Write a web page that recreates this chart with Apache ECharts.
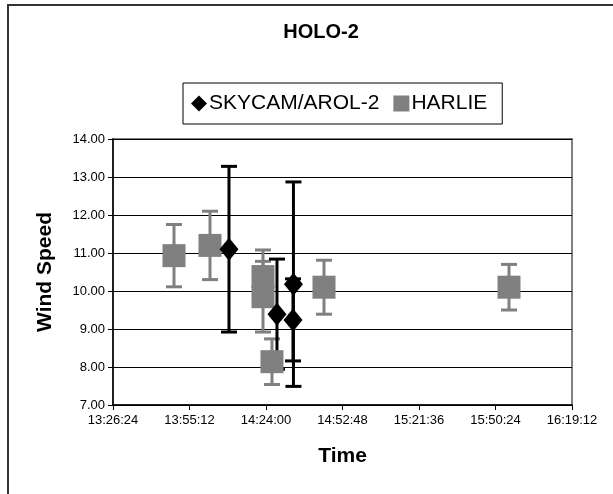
<!DOCTYPE html>
<html>
<head>
<meta charset="utf-8">
<script src="https://cdn.jsdelivr.net/npm/echarts@6/dist/echarts.min.js"></script>
<style>
html,body{margin:0;padding:0;background:#fff;}
#frame{position:absolute;left:7px;top:4px;width:700px;height:600px;border-left:2px solid #333;border-top:2px solid #333;}
#chart{position:absolute;left:0;top:0;width:613px;height:494px;}
</style>
</head>
<body>
<div id="frame"></div>
<div id="chart"></div>
<script>
// Times as seconds since midnight
function t(s){var p=s.split(':');return (+p[0])*3600+(+p[1])*60+(+p[2]);}
var skyTimes = ['14:10:04','14:28:08','14:34:20','14:34:10'];
var skyValues = [11.10, 9.39, 10.18, 9.24];
var skyErrors = [2.18, 1.45, 2.69, 1.08];
var harlieTimes = ['13:49:22','14:02:55','14:22:52','14:22:52','14:26:15','14:45:50','15:55:29'];
var harlieValues = [10.93, 11.20, 10.38, 9.85, 8.14, 10.10, 10.10];
var harlieErrors = [0.82, 0.90, 0.70, 0.93, 0.60, 0.71, 0.60];
var xTickMin = '13:26:24', xTickMax = '16:19:12', xTickStep = 1728;
var yMin = 7, yMax = 14, yStep = 1;
var seriesNames = ['SKYCAM/AROL-2','HARLIE'];

function fmt(sec){
  var h=Math.floor(sec/3600), m=Math.floor((sec%3600)/60), s=Math.round(sec%60);
  function p(n){return (n<10?'0':'')+n;}
  return h+':'+p(m)+':'+p(s);
}
function pts(times, vals, errs){
  return times.map(function(tt,i){return [t(tt), vals[i], errs[i]];});
}
var skyData = pts(skyTimes, skyValues, skyErrors);
var harData = pts(harlieTimes, harlieValues, harlieErrors);

function errRender(color){
  return function(params, api){
    var x = api.value(0), y = api.value(1), e = api.value(2);
    var top = api.coord([x, y+e]), bot = api.coord([x, y-e]);
    var hw = 8;
    var st = {stroke: color, lineWidth: 3};
    return {type:'group', children:[
      {type:'line', shape:{x1:top[0],y1:top[1],x2:bot[0],y2:bot[1]}, style:st},
      {type:'line', shape:{x1:top[0]-hw,y1:top[1],x2:top[0]+hw,y2:top[1]}, style:st},
      {type:'line', shape:{x1:bot[0]-hw,y1:bot[1],x2:bot[0]+hw,y2:bot[1]}, style:st}
    ]};
  };
}

var chart = echarts.init(document.getElementById('chart'), null, {renderer:'canvas'});
var font = 'Arial, "Liberation Sans", sans-serif';
chart.setOption({
  animation:false,
  textStyle:{fontFamily:font},
  title:{text:'HOLO-2', left:316, top:17, textAlign:'center',
    textStyle:{fontFamily:font, fontSize:20, fontWeight:'bold', color:'#000'}},
  legend:{
    left:183, top:83, padding:[10,15,10,8], itemGap:14,
    borderColor:'#000', borderWidth:1,
    itemWidth:16, itemHeight:16,
    textStyle:{fontFamily:font, fontSize:21, color:'#000', padding:[0,0,0,-3]},
    data:[{name:seriesNames[0], icon:'diamond'},{name:seriesNames[1], icon:'rect'}]
  },
  grid:{left:113, right:41, top:139, bottom:89, show:true, borderColor:'#808080', borderWidth:2, backgroundColor:'#fff'},
  xAxis:{type:'value', min:t(xTickMin), max:t(xTickMax), interval:xTickStep,
    name:'Time', nameLocation:'middle', nameGap:41,
    nameTextStyle:{fontFamily:font, fontSize:21, fontWeight:'bold', color:'#000'},
    axisLine:{show:true, onZero:false, lineStyle:{color:'#000', width:1.5}},
    axisTick:{show:true, length:5, lineStyle:{color:'#000'}},
    axisLabel:{formatter:fmt, fontSize:13, color:'#000', margin:9},
    splitLine:{show:false}},
  yAxis:{type:'value', min:yMin, max:yMax, interval:yStep,
    name:'Wind Speed', nameLocation:'middle', nameGap:57,
    nameTextStyle:{fontFamily:font, fontSize:21, fontWeight:'bold', color:'#000'},
    axisLine:{show:true, lineStyle:{color:'#000', width:1.5}},
    axisTick:{show:true, length:5, lineStyle:{color:'#000'}},
    axisLabel:{formatter:function(v){return v.toFixed(2);}, fontSize:13, color:'#000', margin:8},
    splitLine:{show:true, lineStyle:{color:'#000', width:1}}},
  series:[
    {type:'custom', name:'harErr', data:harData, renderItem:errRender('#808080'), z:1, silent:true},
    {type:'custom', name:'skyErr', data:skyData, renderItem:errRender('#000000'), z:1, silent:true},
    {type:'scatter', name:seriesNames[1], data:harData, symbol:'rect', symbolSize:23,
      itemStyle:{color:'#808080', opacity:1}, z:3},
    {type:'scatter', name:seriesNames[0], data:skyData, symbol:'diamond', symbolSize:[19,23],
      itemStyle:{color:'#000', opacity:1}, z:4}
  ]
});
</script>
</body>
</html>
